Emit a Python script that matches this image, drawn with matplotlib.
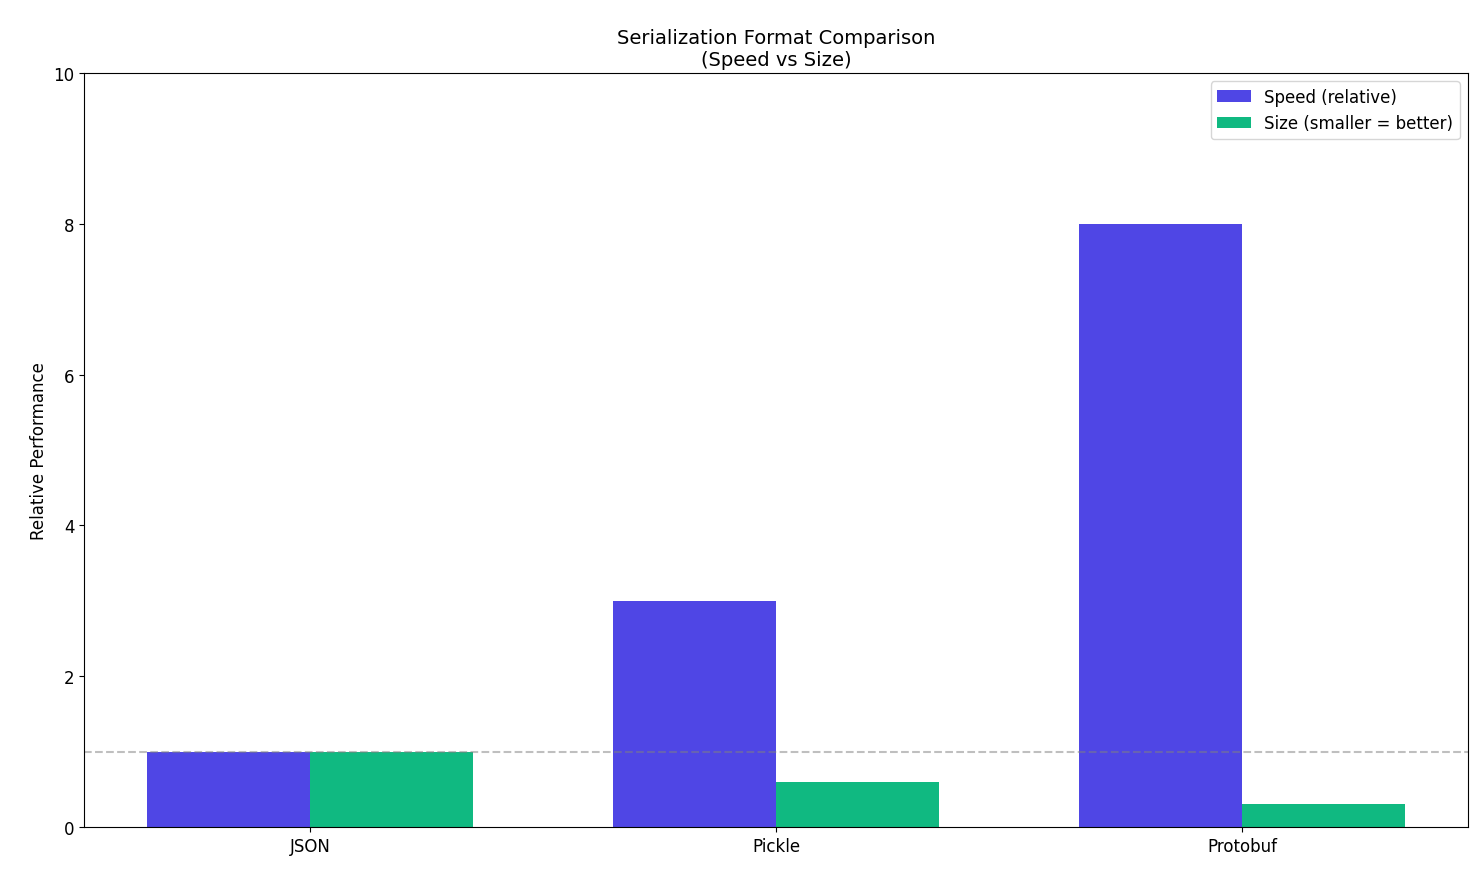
import matplotlib
matplotlib.use("Agg")
import matplotlib.pyplot as plt
import numpy as np

formats = ["JSON", "Pickle", "Protobuf"]
speed = [1, 3, 8]
size = [1, 0.6, 0.3]

fig, ax = plt.subplots(figsize=(14.84, 8.78), dpi=100)
x = np.arange(len(formats))
w = 0.35
ax.bar(x - w/2, speed, w, label="Speed (relative)", color="#4f46e5")
ax.bar(x + w/2, size, w, label="Size (smaller = better)", color="#10b981")
ax.axhline(1, color="gray", linestyle="--", alpha=0.5)
ax.set_xticks(x)
ax.set_xticklabels(formats, fontsize=12)
ax.tick_params(axis="y", labelsize=12)
ax.set_ylim(0, 10)
ax.set_ylabel("Relative Performance", fontsize=12)
ax.set_title("Serialization Format Comparison\n(Speed vs Size)", fontsize=14)
ax.legend(fontsize=12)
fig.subplots_adjust(left=84/1484, right=1468/1484, top=1-74/878, bottom=1-828/878)
fig.savefig("out.png", dpi=100)
